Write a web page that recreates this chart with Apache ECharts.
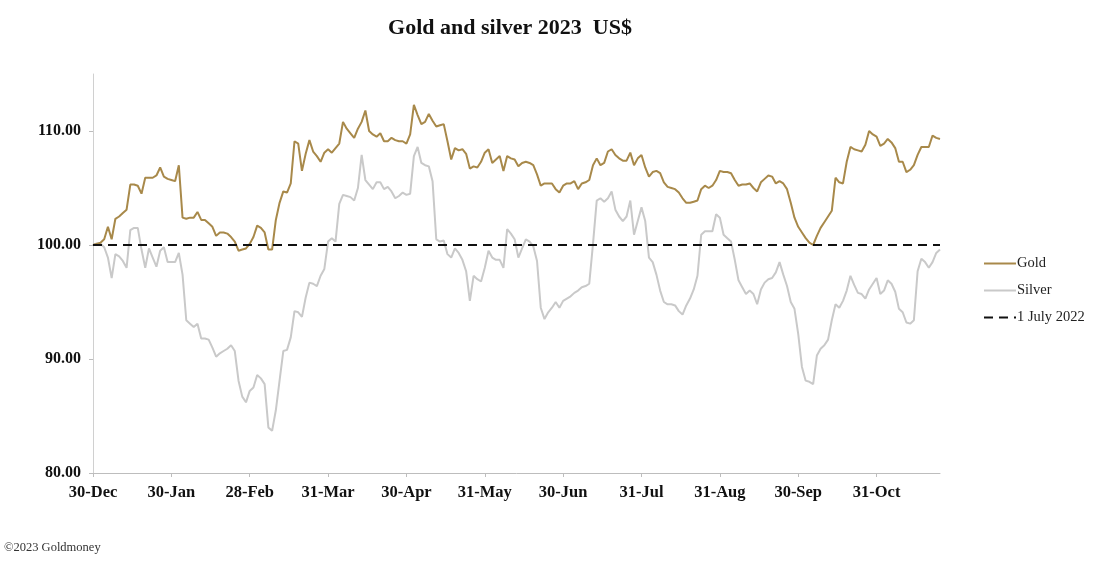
<!DOCTYPE html>
<html>
<head>
<meta charset="utf-8">
<script src="https://cdn.jsdelivr.net/npm/echarts@6/dist/echarts.min.js"></script>
<style>
html,body{margin:0;padding:0;background:#fff;}
#chart{width:1100px;height:563px;}
</style>
</head>
<body>
<div id="chart"></div>
<script>
// Index (1 July 2022 = 100), trading days from 30-Dec-2022
const gold = [
100.0,100.1,100.2,100.5,101.6,100.5,102.3,102.5,102.8,103.1,
105.3,105.3,105.2,104.5,105.9,105.9,105.9,106.1,106.8,106.0,
105.8,105.7,105.6,107.0,102.4,102.3,102.4,102.4,102.9,102.2,
102.2,101.9,101.6,100.8,101.1,101.1,101.0,100.7,100.3,99.5,
99.6,99.7,100.1,100.7,101.7,101.5,101.1,99.6,99.6,102.2,
103.7,104.7,104.6,105.4,109.1,108.9,106.5,108.0,109.2,108.2,
107.8,107.3,108.1,108.4,108.1,108.5,108.9,110.8,110.2,109.8,
109.4,110.2,110.8,111.8,110.0,109.7,109.5,109.8,109.1,109.1,
109.4,109.2,109.1,109.1,108.9,109.7,112.3,111.4,110.6,110.8,
111.5,110.9,110.4,110.5,110.6,109.1,107.5,108.5,108.3,108.4,
108.0,106.7,106.9,106.8,107.3,108.1,108.4,107.2,107.5,107.8,
106.5,107.8,107.6,107.5,106.9,107.2,107.3,107.2,107.0,106.2,
105.2,105.4,105.4,105.4,104.9,104.6,105.2,105.4,105.4,105.6,
104.9,105.4,105.5,105.7,107.0,107.6,107.0,107.2,108.2,108.4,
107.9,107.6,107.4,107.4,108.1,107.0,107.6,107.9,106.8,106.0,
106.4,106.5,106.3,105.5,105.1,105.0,104.9,104.6,104.1,103.7,
103.7,103.8,103.9,104.9,105.2,105.0,105.2,105.7,106.5,106.4,
106.4,106.3,105.7,105.2,105.3,105.3,105.4,105.0,104.7,105.5,
105.8,106.1,106.0,105.4,105.6,105.4,104.9,103.7,102.4,101.6,
101.1,100.6,100.2,100.0,100.8,101.5,102.0,102.5,103.0,105.9,
105.5,105.4,107.3,108.6,108.4,108.3,108.2,108.8,110.0,109.7,
109.5,108.7,108.9,109.3,109.0,108.5,107.3,107.3,106.4,106.6,
107.0,107.9,108.6,108.6,108.6,109.6,109.4,109.3
];
const silver = [
100.0,100.15,100.1,99.8,98.9,97.1,99.2,99.0,98.6,98.0,
101.3,101.5,101.5,99.6,98.0,99.7,98.9,98.1,99.5,99.8,
98.5,98.5,98.5,99.3,97.4,93.4,93.1,92.8,93.1,91.8,
91.8,91.7,91.0,90.2,90.5,90.7,90.9,91.2,90.7,88.1,
86.7,86.2,87.2,87.5,88.6,88.3,87.8,84.0,83.7,85.5,
88.1,90.7,90.8,91.9,94.2,94.1,93.7,95.4,96.7,96.6,
96.4,97.3,97.9,100.3,100.6,100.3,103.6,104.4,104.3,104.2,
103.9,105.0,107.9,105.7,105.3,104.9,105.5,105.5,104.9,105.1,
104.7,104.1,104.3,104.6,104.4,104.5,107.8,108.6,107.2,107.0,
106.9,105.6,100.5,100.3,100.4,99.2,98.9,99.7,99.3,98.7,
97.7,95.1,97.3,97.0,96.8,98.0,99.5,98.9,98.7,98.7,
98.0,101.4,101.0,100.5,98.9,99.7,100.5,100.3,99.9,98.6,
94.5,93.5,94.1,94.5,95.0,94.5,95.1,95.3,95.5,95.8,
96.0,96.3,96.4,96.6,100.1,103.9,104.1,103.8,104.1,104.7,
103.1,102.5,102.1,102.5,103.9,100.9,102.1,103.3,102.1,98.9,
98.5,97.4,96.0,95.0,94.8,94.8,94.7,94.2,93.9,94.7,
95.3,96.1,97.3,100.9,101.2,101.2,101.2,102.7,102.4,100.9,
100.6,100.3,98.7,96.9,96.3,95.7,96.0,95.7,94.8,96.1,
96.7,97.0,97.1,97.6,98.5,97.4,96.4,95.0,94.4,92.2,
89.3,88.1,88.0,87.8,90.3,90.9,91.2,91.7,93.4,94.8,
94.5,95.1,96.0,97.3,96.5,95.8,95.7,95.3,96.1,96.6,
97.1,95.7,96.0,96.9,96.6,95.9,94.4,94.1,93.2,93.1,
93.4,97.7,98.8,98.5,98.0,98.5,99.3,99.6
];
const baseLevel = 100;
const tickIndex = [0,21,42,63,84,105,126,147,168,189,210];
const tickLabels = ['30-Dec','30-Jan','28-Feb','31-Mar','30-Apr','31-May','30-Jun','31-Jul','31-Aug','30-Sep','31-Oct'];
const yTicks = [80,90,100,110];

const categories = gold.map((_, i) => i);
const lastIdx = categories.length - 1;
const labelOf = {};
tickIndex.forEach((k, j) => { labelOf[k] = tickLabels[j]; });
const isTick = (idx) => labelOf[idx] !== undefined;

const serif = '"Liberation Serif","DejaVu Serif",serif';
const chart = echarts.init(document.getElementById('chart'));
chart.setOption({
  animation: false,
  backgroundColor: '#fff',
  title: {
    text: 'Gold and silver 2023  US$',
    left: 505, top: 12, textAlign: 'center',
    textStyle: {fontFamily: serif, fontWeight: 'bold', fontSize: 22, color: '#111'}
  },
  grid: {left: 93, right: 160, top: 74, bottom: 90, containLabel: false},
  legend: {
    orient: 'vertical', left: 978, top: 251,
    itemWidth: 32, itemHeight: 14, itemGap: 12,
    itemStyle: {opacity: 0},
    textStyle: {fontFamily: serif, fontSize: 14.5, color: '#222', padding: [0,0,0,-4]},
    data: ['Gold', 'Silver', '1 July 2022']
  },
  xAxis: {
    type: 'category', data: categories, boundaryGap: false,
    axisLine: {show: true, lineStyle: {color: '#bdbdbd', width: 1}},
    axisTick: {show: true, interval: (i) => isTick(i), length: 4, inside: false, lineStyle: {color: '#bdbdbd'}},
    axisLabel: {
      interval: (i) => isTick(i), margin: 11,
      formatter: (v, i) => labelOf[i] || '',
      fontFamily: serif, fontWeight: 'bold', fontSize: 16.5, color: '#111'
    },
    splitLine: {show: false}
  },
  yAxis: {
    type: 'value', min: 80, max: 115,
    axisLine: {show: true, lineStyle: {color: '#d0d0d0', width: 1}},
    axisTick: {show: true, length: 4, customValues: yTicks, lineStyle: {color: '#bdbdbd'}},
    axisLabel: {
      customValues: yTicks, margin: 12,
      formatter: (v) => v.toFixed(2),
      fontFamily: serif, fontWeight: 'bold', fontSize: 16, color: '#111'
    },
    splitLine: {show: false}
  },
  series: [
    {name: 'Gold', type: 'line', data: gold, showSymbol: false, symbol: 'none',
     lineStyle: {color: '#a8894a', width: 2}, itemStyle: {color: '#a8894a'}, z: 4},
    {name: 'Silver', type: 'line', data: silver, showSymbol: false, symbol: 'none',
     lineStyle: {color: '#c9c9c9', width: 2}, itemStyle: {color: '#c9c9c9'}, z: 3},
    {name: '1 July 2022', type: 'line', data: [[0, baseLevel], [lastIdx, baseLevel]],
     showSymbol: false, symbol: 'none',
     lineStyle: {color: '#111', width: 2, type: [9, 6]}, itemStyle: {color: '#111'}, z: 5}
  ],
  graphic: [{
    type: 'text', left: 4, top: 541,
    style: {text: '©2023 Goldmoney', font: '12.5px ' + serif, fill: '#333'}
  }]
});
</script>
</body>
</html>
